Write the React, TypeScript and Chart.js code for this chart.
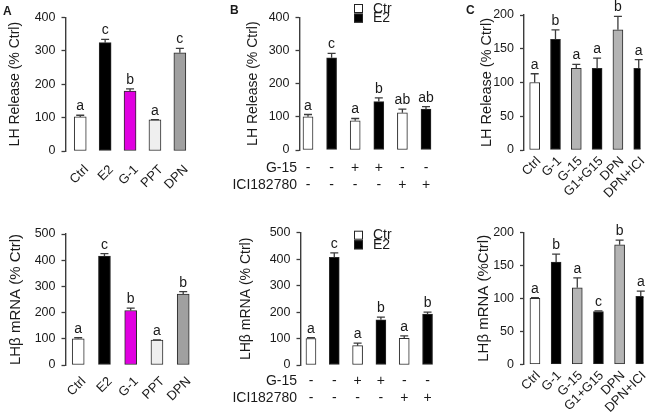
import React, { useEffect, useRef } from "react";
import { Chart, registerables } from "chart.js";

Chart.register(...registerables);

const FONT = "'Liberation Sans', Arial, Helvetica, sans-serif";
const INK = "#1a1a1a";
const AXIS = "#3c3c3c";
const WHITE = "#ffffff";
const BLACK = "#000000";
const MAGENTA = "#e000e0";
const LIGHT = "#efefef";
const GREY_A = "#a0a0a0";
const GREY_C = "#b4b4b4";

// ---------- Panel A ----------
const catsA = ["Ctrl", "E2", "G-1", "PPT", "DPN"];
const colorsA = [WHITE, BLACK, MAGENTA, LIGHT, GREY_A];
const lhA = [102, 324, 179, 93, 294];
const lhAErr = [5, 10, 7, 1, 13];
const lhALetters = ["a", "c", "b", "a", "c"];
const mrnaA = [100, 416, 208, 95, 271];
const mrnaAErr = [4, 9, 9, 1, 9];
const mrnaALetters = ["a", "c", "b", "a", "b"];

// ---------- Panel B ----------
const treatB = ["Ctr", "E2", "Ctr", "E2", "Ctr", "E2"];
const g15Row = ["-", "-", "+", "+", "-", "-"];
const iciRow = ["-", "-", "-", "-", "+", "+"];
const rowHeadersB = ["G-15", "ICI182780"];
const legendB = ["Ctr", "E2"];
const lhB = [100, 278, 88, 146, 112, 123];
const lhBErr = [7, 13, 7, 11, 11, 8];
const lhBLetters = ["a", "c", "a", "b", "ab", "ab"];
const mrnaB = [100, 407, 73, 171, 101, 192];
const mrnaBErr = [3, 17, 10, 10, 9, 8];
const mrnaBLetters = ["a", "c", "a", "b", "a", "b"];

// ---------- Panel C ----------
const catsC = ["Ctrl", "G-1", "G-15", "G1+G15", "DPN", "DPN+ICI"];
const colorsC = [WHITE, BLACK, GREY_C, BLACK, GREY_C, BLACK];
const lhC = [100, 164, 121, 121, 178, 121];
const lhCErr = [13, 14, 6, 15, 20, 13];
const lhCLetters = ["a", "b", "a", "a", "b", "a"];
const mrnaC = [100, 155, 116, 80, 181, 103];
const mrnaCErr = [1, 12, 15, 1, 7, 8];
const mrnaCLetters = ["a", "b", "a", "c", "b", "a"];

// axis ranges
const yMaxLH_AB = 400;
const yMaxMRNA_AB = 500;
const yStepAB = 100;
const yMaxC = 200;
const yStepC = 50;

const colorsB = treatB.map((t) => (t === "E2" ? BLACK : WHITE));
const legendColors = [WHITE, BLACK];

type Spec = {
  left: number; top: number; width: number; height: number;
  axisX: number; areaTop: number; areaBottom: number;
  firstX: number; stepX: number; barW: number;
  yMax: number; yStep: number;
  title: string; titleX: number; titleSize: number;
  values: number[]; errs: number[]; letters: string[]; colors: string[];
  xLabels: (string | string[])[]; rotated: boolean;
  xFontSize: number; xLineH: number; xPad: number; xShift: number;
  rowHeaders?: string[]; rowHeaderX?: number;
  legend?: { x: number; y: number };
  panelLabel?: { text: string; x: number; y: number };
};

function Panel({ s }: { s: Spec }) {
  const ref = useRef<HTMLCanvasElement>(null);
  useEffect(() => {
    const areaRight = s.left + s.width - 6;
    const xmin = -(s.firstX - s.axisX) / s.stepX;
    const xmax = (areaRight - s.firstX) / s.stepX;
    const titleLH = s.titleSize * 1.2;
    const decor = {
      id: "decor",
      afterDatasetsDraw(chart: any) {
        const ctx = chart.ctx as CanvasRenderingContext2D;
        const meta = chart.getDatasetMeta(0);
        const ys = chart.scales.y;
        ctx.save();
        meta.data.forEach((el: any, i: number) => {
          const x = el.x;
          const yb = el.y;
          const yt = ys.getPixelForValue(s.values[i] + s.errs[i]);
          ctx.strokeStyle = AXIS;
          ctx.lineWidth = 1.3;
          ctx.beginPath();
          ctx.moveTo(x, yb);
          ctx.lineTo(x, yt);
          ctx.moveTo(x - 4, yt);
          ctx.lineTo(x + 4, yt);
          ctx.stroke();
          ctx.fillStyle = INK;
          ctx.font = `14px ${FONT}`;
          ctx.textAlign = "center";
          ctx.textBaseline = "alphabetic";
          ctx.fillText(s.letters[i], x, yt - 5);
        });
        if (s.rowHeaders) {
          ctx.font = `${s.xFontSize}px ${FONT}`;
          ctx.textAlign = "right";
          ctx.textBaseline = "middle";
          ctx.fillStyle = INK;
          const base = chart.chartArea.bottom + s.xPad;
          s.rowHeaders.forEach((h, i) => {
            ctx.fillText(h, (s.rowHeaderX as number) - s.left, base + s.xLineH * (i + 0.5));
          });
        }
        if (s.legend) {
          const lx = s.legend.x - s.left;
          const ly = s.legend.y - s.top;
          legendB.forEach((lab, i) => {
            const by = ly + i * 9.6;
            ctx.fillStyle = legendColors[i];
            ctx.fillRect(lx, by, 9, 9);
            ctx.strokeStyle = "#222";
            ctx.lineWidth = 1;
            ctx.strokeRect(lx + 0.5, by + 0.5, 8, 8);
            ctx.fillStyle = INK;
            ctx.font = `14px ${FONT}`;
            ctx.textAlign = "left";
            ctx.textBaseline = "middle";
            ctx.fillText(lab, lx + 19, by + 4.8);
          });
        }
        if (s.panelLabel) {
          ctx.fillStyle = INK;
          ctx.font = `bold 12px ${FONT}`;
          ctx.textAlign = "left";
          ctx.textBaseline = "alphabetic";
          ctx.fillText(s.panelLabel.text, s.panelLabel.x - s.left, s.panelLabel.y - s.top);
        }
        ctx.restore();
      },
    };
    const chart = new Chart(ref.current as HTMLCanvasElement, {
      type: "bar",
      data: {
        datasets: [
          {
            data: s.values.map((v, i) => ({ x: i, y: v })) as any,
            backgroundColor: s.colors,
            borderColor: "#2a2a2a",
            borderWidth: 1,
            borderSkipped: false,
            barThickness: s.barW,
          },
        ],
      },
      options: {
        responsive: false,
        animation: false,
        events: [],
        layout: {
          padding: {
            left: 0,
            top: s.areaTop - s.top,
            right: s.left + s.width - areaRight,
            bottom: 0,
          },
        },
        plugins: { legend: { display: false }, tooltip: { enabled: false } },
        scales: {
          x: {
            type: "linear",
            min: xmin,
            max: xmax,
            offset: false,
            grid: { display: false, drawTicks: false },
            border: { display: false },
            afterBuildTicks: (sc: any) => {
              sc.ticks = s.xLabels.map((_, i) => ({ value: i + s.xShift / s.stepX }));
            },
            afterFit: (sc: any) => {
              sc.height = s.top + s.height - s.areaBottom;
            },
            ticks: {
              autoSkip: false,
              minRotation: s.rotated ? 45 : 0,
              maxRotation: s.rotated ? 45 : 0,
              padding: s.xPad,
              color: INK,
              font: { family: FONT, size: s.xFontSize, lineHeight: s.xLineH / s.xFontSize },
              callback: (_v: any, idx: number) => s.xLabels[idx] as any,
            },
          },
          y: {
            min: 0,
            max: s.yMax,
            afterFit: (sc: any) => {
              sc.width = s.axisX - s.left;
            },
            grid: {
              display: true,
              drawOnChartArea: false,
              drawTicks: true,
              tickLength: 4,
              tickColor: AXIS,
              tickWidth: 1.3,
            },
            border: { display: true, color: AXIS, width: 1.4 },
            ticks: {
              stepSize: s.yStep,
              padding: 6,
              color: INK,
              font: { family: FONT, size: 12.5 },
            },
            title: {
              display: true,
              text: s.title,
              color: INK,
              font: { family: FONT, size: s.titleSize },
              padding: { top: s.titleX - s.left - titleLH / 2, bottom: 0 },
            },
          },
        },
      },
      plugins: [decor],
    } as any);
    return () => chart.destroy();
  }, []);
  return (
    <canvas
      ref={ref}
      width={s.width}
      height={s.height}
      style={{ position: "absolute", left: s.left, top: s.top, width: s.width, height: s.height }}
    />
  );
}

const panels: Spec[] = [
  {
    left: 0, top: 0, width: 215, height: 210,
    axisX: 65.5, areaTop: 17.3, areaBottom: 151, firstX: 82, stepX: 27.9, barW: 12,
    yMax: yMaxLH_AB, yStep: yStepAB,
    title: "LH Release (% Ctrl)", titleX: 15.3, titleSize: 14,
    values: lhA, errs: lhAErr, letters: lhALetters, colors: colorsA,
    xLabels: catsA, rotated: true, xFontSize: 13, xLineH: 34, xPad: 4.5, xShift: 7,
    panelLabel: { text: "A", x: 3, y: 15 },
  },
  {
    left: 215, top: 0, width: 225, height: 210,
    axisX: 299.5, areaTop: 17.3, areaBottom: 150, firstX: 308, stepX: 23.6, barW: 10,
    yMax: yMaxLH_AB, yStep: yStepAB,
    title: "LH Release (% Ctrl)", titleX: 253.3, titleSize: 14,
    values: lhB, errs: lhBErr, letters: lhBLetters, colors: colorsB,
    xLabels: g15Row.map((g, i) => [g, iciRow[i]]), rotated: false,
    xFontSize: 14, xLineH: 17.3, xPad: 9.3, xShift: 0,
    rowHeaders: rowHeadersB, rowHeaderX: 297,
    legend: { x: 354, y: 4 },
    panelLabel: { text: "B", x: 230, y: 14 },
  },
  {
    left: 440, top: 0, width: 221, height: 210,
    axisX: 524, areaTop: 15, areaBottom: 150, firstX: 536, stepX: 23.4, barW: 10,
    yMax: yMaxC, yStep: yStepC,
    title: "LH Release (% Ctrl)", titleX: 486.7, titleSize: 14.5,
    values: lhC, errs: lhCErr, letters: lhCLetters, colors: colorsC,
    xLabels: catsC, rotated: true, xFontSize: 13, xLineH: 26, xPad: 0, xShift: 4.5,
    panelLabel: { text: "C", x: 466, y: 14 },
  },
  {
    left: 0, top: 210, width: 215, height: 209,
    axisX: 65.5, areaTop: 234, areaBottom: 365, firstX: 79, stepX: 27.9, barW: 12,
    yMax: yMaxMRNA_AB, yStep: yStepAB,
    title: "LHβ mRNA (% Ctrl)", titleX: 16, titleSize: 15,
    values: mrnaA, errs: mrnaAErr, letters: mrnaALetters, colors: colorsA,
    xLabels: catsA, rotated: true, xFontSize: 13, xLineH: 32, xPad: 3, xShift: 6,
  },
  {
    left: 215, top: 210, width: 225, height: 209,
    axisX: 300.5, areaTop: 232.7, areaBottom: 365, firstX: 311, stepX: 23.4, barW: 10,
    yMax: yMaxMRNA_AB, yStep: yStepAB,
    title: "LHβ mRNA (% Ctrl)", titleX: 246.5, titleSize: 14,
    values: mrnaB, errs: mrnaBErr, letters: mrnaBLetters, colors: colorsB,
    xLabels: g15Row.map((g, i) => [g, iciRow[i]]), rotated: false,
    xFontSize: 14, xLineH: 16.4, xPad: 8.1, xShift: 0,
    rowHeaders: rowHeadersB, rowHeaderX: 297,
    legend: { x: 354, y: 230.7 },
  },
  {
    left: 440, top: 210, width: 221, height: 209,
    axisX: 524, areaTop: 232.3, areaBottom: 364.3, firstX: 536, stepX: 23.2, barW: 10,
    yMax: yMaxC, yStep: yStepC,
    title: "LHβ mRNA (%Ctrl)", titleX: 484, titleSize: 15,
    values: mrnaC, errs: mrnaCErr, letters: mrnaCLetters, colors: colorsC,
    xLabels: catsC, rotated: true, xFontSize: 13, xLineH: 22, xPad: 1.5, xShift: 3.5,
  },
];

export default function App() {
  return (
    <div
      style={{
        position: "fixed",
        left: 0,
        top: 0,
        width: 661,
        height: 419,
        background: "#ffffff",
        overflow: "hidden",
      }}
    >
      {panels.map((p, i) => (
        <Panel key={i} s={p} />
      ))}
    </div>
  );
}
